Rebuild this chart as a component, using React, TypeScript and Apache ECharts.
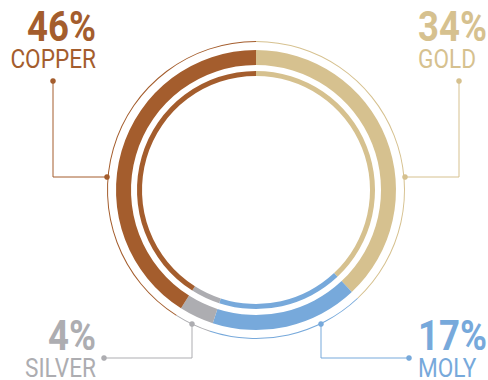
import React, { useEffect, useRef } from "react";
import * as echarts from "echarts";

// Metals in clockwise order from 12 o'clock
const metals = ["GOLD", "MOLY", "SILVER", "COPPER"];
const labelPercents = [34, 17, 4, 46];
// arc share of each segment as drawn on the ring
const ringShares = [38, 17, 4, 41];
const colors = ["#D6C18F", "#77A9DB", "#ADADB1", "#A45D2D"];

const CX = 256;
const CY = 190;

export default function App() {
  const ref = useRef<HTMLDivElement>(null);
  useEffect(() => {
    if (!ref.current) return;
    const chart = echarts.init(ref.current, null, { renderer: "svg" });
    const data = metals.map((m, i) => ({
      name: m,
      value: ringShares[i],
      itemStyle: { color: colors[i] },
    }));
    const pie = (radius: number[]) => ({
      type: "pie",
      center: [CX, CY],
      radius,
      startAngle: 90,
      clockwise: true,
      silent: true,
      label: { show: false },
      labelLine: { show: false },
      emphasis: { disabled: true },
      itemStyle: { borderWidth: 0 },
      data,
    });

    const font = "Roboto, sans-serif";
    const sx = 0.87;
    // label placements: [anchorX, pctY, nameY, align, path points, dot1, dot2]
    const layout: Record<string, any> = {
      COPPER: { x: 96, py: 27, ny: 58.5, align: "right", pts: [[53, 81], [53, 177], [107, 177]] },
      GOLD: { x: 418, py: 27, ny: 58.5, align: "left", pts: [[459, 81], [459, 177], [405, 177]] },
      SILVER: { x: 96, py: 336, ny: 367.5, align: "right", pts: [[104, 358], [192, 358], [192, 324]] },
      MOLY: { x: 418, py: 336, ny: 367.5, align: "left", pts: [[409, 358], [321, 358], [321, 324]] },
    };

    const graphics: any[] = [];
    metals.forEach((m, i) => {
      const L = layout[m];
      const c = colors[i];
      graphics.push({
        type: "text",
        x: L.x,
        y: L.py,
        scaleX: sx,
        silent: true,
        style: {
          text: labelPercents[i] + "%",
          fill: c,
          font: `bold 42px ${font}`,
          align: L.align,
          verticalAlign: "middle",
        },
      });
      graphics.push({
        type: "text",
        x: L.x,
        y: L.ny,
        scaleX: sx,
        silent: true,
        style: {
          text: m,
          fill: c,
          font: `normal 26px ${font}`,
          align: L.align,
          verticalAlign: "middle",
        },
      });
      graphics.push({
        type: "polyline",
        silent: true,
        shape: { points: L.pts },
        style: { stroke: c, lineWidth: 1, fill: "none" },
      });
      [L.pts[0], L.pts[2]].forEach((p: number[]) =>
        graphics.push({
          type: "circle",
          silent: true,
          shape: { cx: p[0], cy: p[1], r: 2.8 },
          style: { fill: c },
        })
      );
    });

    chart.setOption({
      animation: false,
      backgroundColor: "#ffffff",
      series: [pie([125, 140]), pie([114, 119]), pie([148, 149])],
      graphic: graphics,
    });
    return () => chart.dispose();
  }, []);
  return (
    <div
      ref={ref}
      style={{ position: "fixed", left: 0, top: 0, width: 488, height: 380 }}
    />
  );
}
